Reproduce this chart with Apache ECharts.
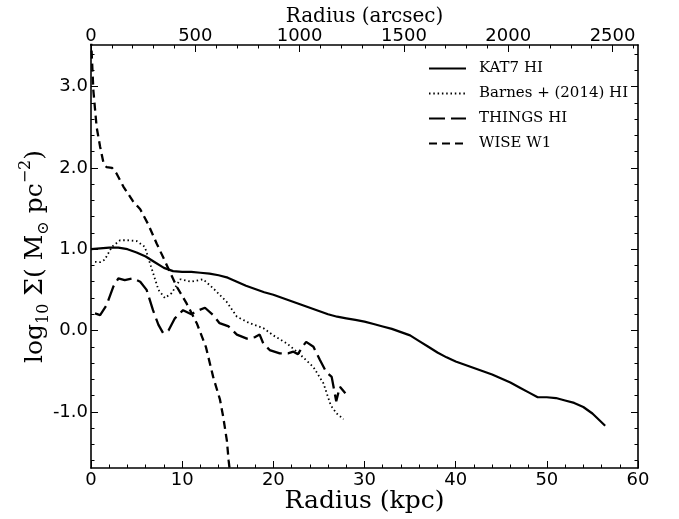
<!DOCTYPE html>
<html><head><meta charset="utf-8">
<script src="https://cdn.jsdelivr.net/npm/echarts@6/dist/echarts.min.js"></script>
<style>html,body{margin:0;padding:0;background:#fff}#c{width:679px;height:519px}</style>
</head><body><div id="c"></div>
<script>
// ---- data (radius kpc, log10 Sigma) ----
const kat7 = [[0,1.00],[1,1.01],[2,1.02],[3,1.02],[4,1.00],[5,0.96],[6,0.91],[7,0.84],[8,0.77],[9,0.73],[10,0.72],[11,0.72],[12,0.71],[13,0.70],[14,0.68],[15,0.65],[16,0.60],[17,0.55],[18,0.51],[19,0.47],[20,0.44],[21,0.40],[22,0.36],[23,0.32],[24,0.28],[25,0.24],[26,0.20],[27,0.17],[28,0.15],[29,0.13],[30,0.11],[31,0.08],[32,0.05],[33,0.02],[34,-0.02],[35,-0.06],[36,-0.13],[37,-0.20],[38,-0.27],[39,-0.33],[40,-0.38],[41,-0.42],[42,-0.46],[43,-0.50],[44,-0.54],[45,-0.59],[46,-0.64],[47,-0.70],[48,-0.76],[49,-0.82],[50,-0.82],[51,-0.83],[52,-0.86],[53,-0.89],[54,-0.94],[55,-1.02],[56.4,-1.17]];
const barnes = [[0.44,0.845],[1.0,0.84],[1.5,0.87],[2.3,1.03],[3.2,1.11],[4.0,1.11],[5.0,1.10],[5.9,1.03],[6.6,0.78],[7.4,0.50],[8.1,0.40],[8.85,0.46],[9.8,0.63],[11.0,0.60],[12.3,0.63],[13.4,0.52],[14.9,0.35],[16.0,0.17],[17.4,0.09],[18.9,0.03],[20.0,-0.06],[21.5,-0.16],[22.8,-0.28],[24.4,-0.45],[25.5,-0.65],[26.3,-0.92],[26.95,-1.02],[27.7,-1.09]];
const things = [[0.44,0.21],[1.0,0.19],[1.7,0.31],[2.45,0.54],[3.0,0.64],[3.7,0.62],[4.6,0.64],[5.4,0.60],[6.1,0.50],[6.8,0.25],[7.4,0.07],[7.9,-0.03],[8.5,0.0],[9.2,0.15],[10.1,0.25],[11.0,0.20],[11.6,0.24],[12.5,0.28],[13.4,0.19],[14.1,0.09],[15.1,0.05],[16.0,-0.05],[17.1,-0.10],[18.0,-0.08],[18.5,-0.05],[18.9,-0.16],[19.6,-0.24],[20.7,-0.28],[21.6,-0.28],[22.2,-0.26],[22.7,-0.29],[23.2,-0.20],[23.6,-0.14],[24.4,-0.20],[25.1,-0.36],[25.8,-0.51],[26.4,-0.57],[26.9,-0.87],[27.3,-0.69],[27.9,-0.77]];
const wise = [[0.0,3.6],[0.26,2.95],[0.62,2.50],[1.0,2.26],[1.35,2.07],[1.7,2.01],[2.3,2.00],[2.8,1.93],[3.55,1.77],[4.6,1.59],[5.4,1.49],[6.3,1.30],[7.2,1.07],[8.0,0.88],[9.4,0.54],[10.5,0.33],[11.6,0.09],[12.6,-0.20],[13.4,-0.57],[14.15,-0.85],[14.5,-1.06],[14.9,-1.35],[15.1,-1.60],[15.3,-1.80]];

const seriesNames = ['KAT7 HI', 'Barnes + (2014) HI', 'THINGS HI', 'WISE W1'];

// ---- axes ticks ----
const xMajor = [0,10,20,30,40,50,60];
const xMinor = [2,4,6,8,12,14,16,18,22,24,26,28,32,34,36,38,42,44,46,48,52,54,56,58];
const topMax = 2622; // arcsec at 60 kpc
const topMajor = [0,500,1000,1500,2000,2500];
const topMinor = [100,200,300,400,600,700,800,900,1100,1200,1300,1400,1600,1700,1800,1900,2100,2200,2300,2400,2600];
const yMajor = [-1,0,1,2,3];
const yMinor = [-1.6,-1.4,-1.2,-0.8,-0.6,-0.4,-0.2,0.2,0.4,0.6,0.8,1.2,1.4,1.6,1.8,2.2,2.4,2.6,2.8,3.2,3.4];
const yMin = -1.69, yMax = 3.51;

const sans = 'DejaVu Sans', serif = 'DejaVu Serif';
const axLine = {show:true, onZero:false, lineStyle:{color:'#000', width:1.6}};
const noLine = {show:false, onZero:false};
function tick(vals, len){ return {show:true, inside:true, length:len, customValues:vals, lineStyle:{color:'#000', width:1}}; }
const lbl = {fontFamily:sans, fontSize:18, color:'#000'};

const xAxes = [
  {type:'value', position:'bottom', min:0, max:60, axisLine:axLine, axisTick:tick(xMajor,7),
   axisLabel:Object.assign({customValues:xMajor, margin:3, formatter:v=>String(v)}, lbl), splitLine:{show:false},
   name:'Radius (kpc)', nameLocation:'middle', nameGap:21, nameMoveOverlap:false,
   nameTextStyle:{fontFamily:serif, fontSize:25, color:'#000'}},
  {type:'value', position:'bottom', min:0, max:60, axisLine:noLine, axisTick:tick(xMinor,3.5), axisLabel:{show:false}, splitLine:{show:false}},
  {type:'value', position:'top', min:0, max:topMax, axisLine:axLine, axisTick:tick(topMajor,7),
   axisLabel:Object.assign({customValues:topMajor, margin:0, formatter:v=>String(v)}, lbl), splitLine:{show:false},
   name:'Radius (arcsec)', nameLocation:'middle', nameGap:18, nameMoveOverlap:false,
   nameTextStyle:{fontFamily:serif, fontSize:20, color:'#000'}},
  {type:'value', position:'top', min:0, max:topMax, axisLine:noLine, axisTick:tick(topMinor,3.5), axisLabel:{show:false}, splitLine:{show:false}}
];
const yAxes = [
  {type:'value', position:'left', min:yMin, max:yMax, axisLine:axLine, axisTick:tick(yMajor,7),
   axisLabel:Object.assign({customValues:yMajor, margin:3, formatter:v=>v.toFixed(1)}, lbl), splitLine:{show:false},
   name:'{t|log}{s|10}{t| Σ( M}{s|⊙}{t| pc}{p|−2}{t|)}', nameLocation:'middle', nameGap:39, nameRotate:90, nameMoveOverlap:false,
   nameTextStyle:{color:'#000', rich:{
     t:{fontFamily:serif, fontSize:25, lineHeight:34, color:'#000'},
     s:{fontFamily:serif, fontSize:16, lineHeight:16, verticalAlign:'bottom', color:'#000'},
     p:{fontFamily:serif, fontSize:16, lineHeight:16, verticalAlign:'top', color:'#000'}
   }}},
  {type:'value', position:'left', min:yMin, max:yMax, axisLine:noLine, axisTick:tick(yMinor,3.5), axisLabel:{show:false}, splitLine:{show:false}},
  {type:'value', position:'right', min:yMin, max:yMax, axisLine:axLine, axisTick:tick(yMajor,7), axisLabel:{show:false}, splitLine:{show:false}},
  {type:'value', position:'right', min:yMin, max:yMax, axisLine:noLine, axisTick:tick(yMinor,3.5), axisLabel:{show:false}, splitLine:{show:false}}
];

function ser(name, data, width, type){
  return {name, type:'line', data, xAxisIndex:0, yAxisIndex:0, symbol:'none', showSymbol:false,
    clip:true, silent:true, lineStyle:{color:'#000', width, type, cap:'butt'}, itemStyle:{color:'#000'}};
}

const chart = echarts.init(document.getElementById('c'), null, {renderer:'canvas'});
chart.setOption({
  animation:false,
  backgroundColor:'#fff',
  grid:{left:91, right:41, top:45, bottom:51, containLabel:false, outerBoundsMode:'none'},
  xAxis:xAxes,
  yAxis:yAxes,
  legend:{orient:'vertical', left:428, top:61, padding:0, itemWidth:37, itemHeight:16, itemGap:10,
    data:seriesNames,
    itemStyle:{color:'rgba(0,0,0,0)', borderWidth:0, opacity:0},
    textStyle:{fontFamily:serif, fontSize:15, color:'#000', padding:[0,0,0,8]}},
  series:[
    ser(seriesNames[0], kat7, 2.2, 'solid'),
    ser(seriesNames[1], barnes, 1.8, [1.5,2.8]),
    ser(seriesNames[2], things, 2.3, [16,6]),
    ser(seriesNames[3], wise, 2.3, [8,5])
  ]
});
</script>
</body></html>
